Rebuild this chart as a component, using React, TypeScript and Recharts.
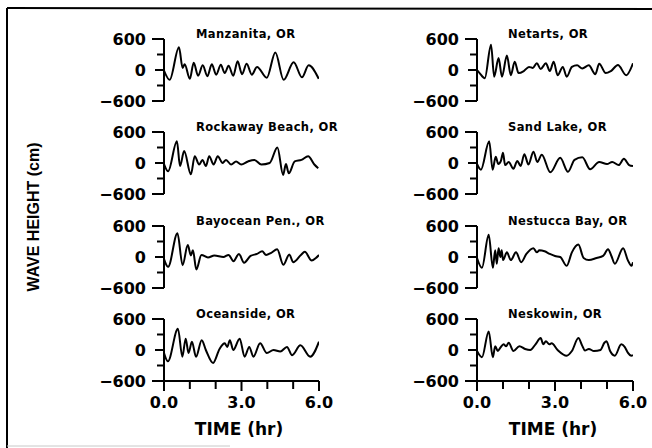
import React from 'react';
import { LineChart, Line, XAxis, YAxis } from 'recharts';

// ---- data: [time (hr), wave height (cm)] turning points ----
const manzanita: [number, number][] = [
  [0, -10], [0.22, -190], [0.58, 440], [0.72, 40], [0.8, 110], [1.0, -170], [1.15, 140], [1.32, -110],
  [1.5, 90], [1.68, -120], [1.85, 110], [2.02, -90], [2.2, 100], [2.35, -60], [2.5, 80], [2.68, -110],
  [2.85, 170], [3.02, -80], [3.2, 120], [3.4, -90], [3.6, 60], [3.98, -150], [4.31, 340], [4.63, -190],
  [5.02, 150], [5.34, -140], [5.6, 90], [5.99, -170],
];
const rockaway: [number, number][] = [
  [0, -20], [0.16, -160], [0.5, 420], [0.62, -60], [0.78, 230], [1.04, -220], [1.19, 130], [1.36, -30],
  [1.49, 60], [1.62, -60], [1.75, 130], [1.92, -30], [2.08, 130], [2.27, 0], [2.4, 60], [2.6, -30],
  [2.79, 30], [2.99, -30], [3.25, 30], [3.5, 60], [3.77, -30], [4.09, 0], [4.39, 300], [4.61, -230],
  [4.72, -20], [4.83, -200], [5.06, 30], [5.32, 60], [5.58, 130], [5.82, -30], [5.97, -100],
];
const bayocean: [number, number][] = [
  [0, -40], [0.16, -190], [0.52, 460], [0.72, -160], [0.92, 230], [1.04, 30], [1.12, 130], [1.25, -240],
  [1.45, 40], [1.7, -10], [1.95, 30], [2.3, 0], [2.5, 40], [2.69, -80], [2.9, 60], [3.1, -110],
  [3.35, 20], [3.6, 60], [3.8, 110], [3.95, 40], [4.15, 80], [4.38, 150], [4.62, -150], [4.85, 50],
  [5.0, -100], [5.3, 40], [5.45, 100], [5.72, -70], [5.88, -20], [6.0, 40],
];
const oceanside: [number, number][] = [
  [0, -60], [0.15, -220], [0.54, 410], [0.71, -130], [0.84, 220], [0.95, -60], [1.08, 160], [1.24, -130],
  [1.46, 190], [1.62, 0], [1.9, -250], [2.15, 20], [2.35, 130], [2.45, 60], [2.55, 190], [2.68, 0],
  [2.93, 220], [3.12, -130], [3.3, 60], [3.46, -130], [3.72, 130], [3.98, -60], [4.24, 0], [4.5, -30],
  [4.76, 60], [4.96, -100], [5.28, 90], [5.66, -130], [6.0, 160],
];
const netarts: [number, number][] = [
  [0, 0], [0.1, -60], [0.3, -160], [0.54, 490], [0.66, -130], [0.83, 230], [0.96, -130], [1.15, 280],
  [1.3, -100], [1.45, 160], [1.6, -60], [1.8, -20], [2.0, 60], [2.15, 40], [2.3, 130], [2.45, 20],
  [2.65, 130], [2.8, -20], [2.95, 160], [3.1, -100], [3.3, 60], [3.45, -130], [3.65, 60], [3.85, 90],
  [4.05, 30], [4.3, 90], [4.55, -80], [4.7, 120], [4.95, -60], [5.15, -20], [5.42, 95], [5.74, -100],
  [6.0, 130],
];
const sandLake: [number, number][] = [
  [0, -20], [0.15, -130], [0.47, 420], [0.6, -130], [0.72, 120], [0.82, -20], [0.92, 40], [1.0, 200],
  [1.08, -40], [1.22, 20], [1.4, -110], [1.55, 40], [1.68, -60], [1.82, 170], [1.98, -30], [2.17, 220],
  [2.32, 20], [2.49, 160], [2.82, -180], [3.2, 100], [3.5, -170], [3.75, 60], [4.05, 110], [4.35, -120],
  [4.7, 20], [5.0, -20], [5.2, 20], [5.45, -40], [5.65, 80], [5.85, -40], [6.0, -60],
];
const nestucca: [number, number][] = [
  [0, -20], [0.19, -210], [0.45, 430], [0.61, -210], [0.7, 130], [0.76, -130], [0.83, 170], [0.9, 0],
  [0.95, 130], [1.0, -60], [1.15, 90], [1.3, -60], [1.5, 90], [1.7, -100], [1.9, 60], [2.17, 170],
  [2.3, 90], [2.4, 130], [2.6, 110], [2.8, 60], [3.0, 20], [3.2, 0], [3.45, -170], [3.65, 90],
  [3.9, 240], [4.1, -20], [4.3, -60], [4.6, -20], [4.85, 20], [5.04, 150], [5.17, 20], [5.3, -130],
  [5.62, 170], [5.8, -60], [5.94, -170], [6.0, -100],
];
const neskowin: [number, number][] = [
  [0, -20], [0.19, -140], [0.45, 360], [0.61, -140], [0.7, 75], [0.8, -20], [0.9, 45], [1.02, 110],
  [1.12, 75], [1.22, 140], [1.4, -20], [1.63, 75], [1.85, 20], [2.05, 0], [2.25, 110], [2.45, 230],
  [2.55, 110], [2.65, 170], [2.78, 110], [2.87, 130], [3.1, 0], [3.45, -110], [3.65, -20], [3.9, 230],
  [4.05, 80], [4.15, -10], [4.3, 20], [4.5, -20], [4.75, 0], [4.9, 140], [4.98, 170], [5.12, -20],
  [5.3, -110], [5.55, 110], [5.68, 60], [5.8, -50], [5.94, -110], [6.0, -100],
];

const leftTitles = ['Manzanita, OR', 'Rockaway Beach, OR', 'Bayocean Pen., OR', 'Oceanside, OR'];
const rightTitles = ['Netarts, OR', 'Sand Lake, OR', 'Nestucca Bay, OR', 'Neskowin, OR'];
const leftSeries = [manzanita, rockaway, bayocean, oceanside];
const rightSeries = [netarts, sandLake, nestucca, neskowin];

const yTicks = [-600, -300, 0, 300, 600];
const yTickLabels: Record<string, string> = { '600': '600', '0': '0', '-600': '\u2212600' };
const xTicks = [0, 1, 2, 3, 4, 5, 6];
const xTickLabels: Record<string, string> = { '0': '0.0', '3': '3.0', '6': '6.0' };

const yLabel = 'WAVE HEIGHT (cm)';
const xLabel = 'TIME (hr)';

// ---- layout ----
const FONT = '"DejaVu Sans", Verdana, sans-serif';
const ROW_TOPS = [39, 132, 226, 319];
const PANEL_H = 62;
const LEFT_X = 164;
const RIGHT_X = 477;
const LEFT_W = 155;
const RIGHT_W = 156;
const Y_AXIS_W = 80;

const YTick = (props: any) => {
  const { x, y, payload } = props;
  const v = payload.value as number;
  const len = Math.abs(v) === 600 ? 12 : v === 0 ? 9 : 7;
  const label = yTickLabels[String(v)] || '';
  return (
    <g>
      <line x1={x - len} y1={y} x2={x} y2={y} stroke="#000" strokeWidth={2} />
      {label ? (
        <text x={x - 18} y={y + 6} textAnchor="end" fontFamily={FONT} fontWeight="bold" fontSize={16} fill="#000">
          {label}
        </text>
      ) : null}
    </g>
  );
};

const XTick = (props: any) => {
  const { x, y, payload } = props;
  const v = payload.value as number;
  const label = xTickLabels[String(v)] || '';
  const len = label ? 10 : 8;
  return (
    <g>
      <line x1={x} y1={y} x2={x} y2={y + len} stroke="#000" strokeWidth={2} />
      {label ? (
        <text x={x} y={y + 27} textAnchor="middle" fontFamily={FONT} fontWeight="bold" fontSize={16} fill="#000">
          {label}
        </text>
      ) : null}
    </g>
  );
};

function Panel({ pairs, axisX, top, plotW, bottom }: { pairs: [number, number][]; axisX: number; top: number; plotW: number; bottom: boolean }) {
  const data = pairs.map(([t, v]) => ({ t, v }));
  const mt = 12;
  const mr = 18;
  const mb = 12;
  const xH = bottom ? 40 : 0;
  const h = mt + PANEL_H + xH + mb;
  return (
    <div style={{ position: 'absolute', left: axisX - Y_AXIS_W, top: top - mt }}>
      <LineChart width={Y_AXIS_W + plotW + mr} height={h} data={data} margin={{ top: mt, right: mr, bottom: mb, left: 0 }}>
        <XAxis
          dataKey="t"
          type="number"
          domain={[0, 6]}
          ticks={xTicks}
          interval={0}
          hide={!bottom}
          height={xH}
          axisLine={{ stroke: '#000', strokeWidth: 2 }}
          tickLine={false}
          tickSize={0}
          tickMargin={0}
          tick={<XTick />}
          allowDataOverflow
        />
        <YAxis
          type="number"
          domain={[-600, 600]}
          ticks={yTicks}
          interval={0}
          width={Y_AXIS_W}
          axisLine={{ stroke: '#000', strokeWidth: 2 }}
          tickLine={false}
          tickSize={0}
          tickMargin={0}
          tick={<YTick />}
          allowDataOverflow
        />
        <Line dataKey="v" type="monotone" stroke="#000" strokeWidth={2} dot={false} isAnimationActive={false} />
      </LineChart>
    </div>
  );
}

export default function App() {
  return (
    <div style={{ position: 'absolute', left: 0, top: 0, width: 652, height: 448, background: '#fff', overflow: 'hidden' }}>
      {leftSeries.map((s, i) => (
        <Panel key={'l' + i} pairs={s} axisX={LEFT_X} top={ROW_TOPS[i]} plotW={LEFT_W} bottom={i === 3} />
      ))}
      {rightSeries.map((s, i) => (
        <Panel key={'r' + i} pairs={s} axisX={RIGHT_X} top={ROW_TOPS[i]} plotW={RIGHT_W} bottom={i === 3} />
      ))}
      <svg width={652} height={448} style={{ position: 'absolute', left: 0, top: 0, pointerEvents: 'none' }}>
        <line x1={7} y1={8} x2={652} y2={9} stroke="#000" strokeWidth={2} />
        <line x1={7} y1={8} x2={7} y2={448} stroke="#000" strokeWidth={2} />
        <line x1={7} y1={446} x2={230} y2={446} stroke="#c8c8c8" strokeWidth={1} />
        {leftTitles.map((t, i) => (
          <text key={'lt' + i} x={LEFT_X + 32} y={ROW_TOPS[i] - 1} fontFamily={FONT} fontWeight="bold" fontSize={11.5} letterSpacing={0.4} fill="#000">
            {t}
          </text>
        ))}
        {rightTitles.map((t, i) => (
          <text key={'rt' + i} x={RIGHT_X + 31} y={ROW_TOPS[i] - 1} fontFamily={FONT} fontWeight="bold" fontSize={11.5} letterSpacing={0.4} fill="#000">
            {t}
          </text>
        ))}
        <text x={239} y={435} textAnchor="middle" fontFamily={FONT} fontWeight="bold" fontSize={17} fill="#000">{xLabel}</text>
        <text x={553} y={435} textAnchor="middle" fontFamily={FONT} fontWeight="bold" fontSize={17} fill="#000">{xLabel}</text>
        <text
          x={33}
          y={217}
          transform="rotate(-90 33 217)"
          textAnchor="middle"
          dominantBaseline="central"
          fontFamily='"Liberation Sans", Arial, sans-serif'
          fontWeight="bold"
          fontSize={16}
          fill="#000"
        >
          {yLabel}
        </text>
      </svg>
    </div>
  );
}
